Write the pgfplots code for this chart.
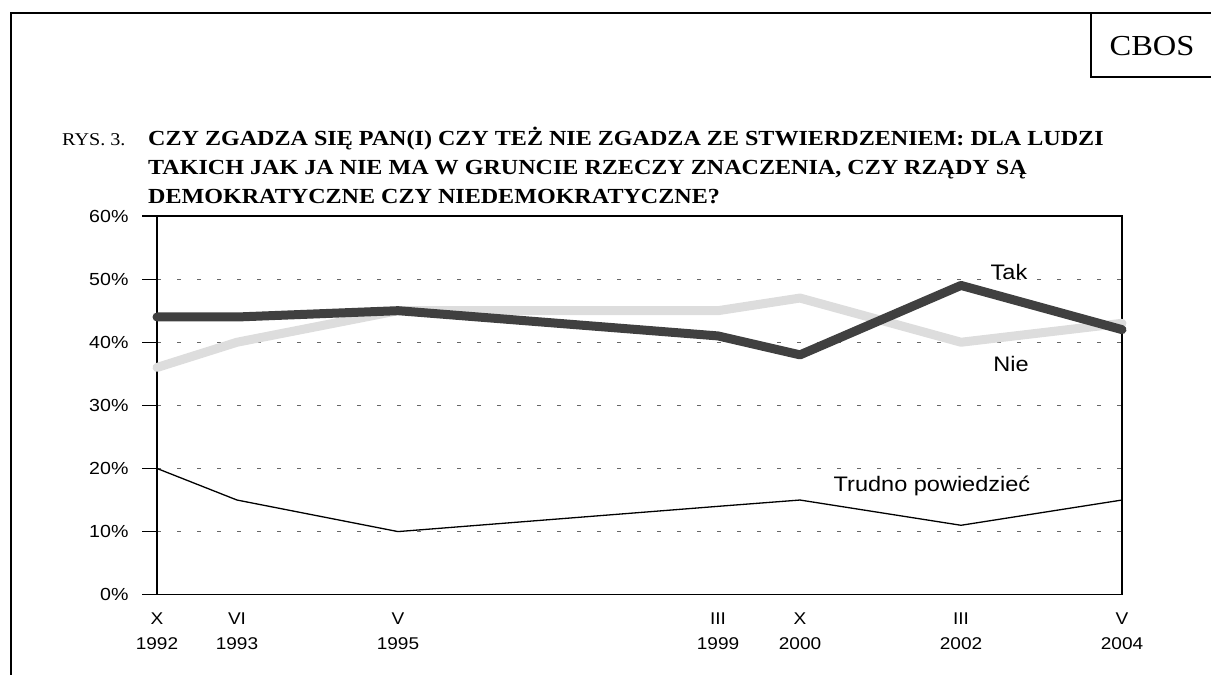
\documentclass[border=0pt]{standalone}
\usepackage{fontspec}
\setmainfont{Liberation Serif}[FakeStretch=1.12]
\newfontfamily\arial{Liberation Sans}[FakeStretch=1.12]
\usepackage{pgfplots}
\pgfplotsset{compat=1.18}
\definecolor{takc}{HTML}{404040}
\definecolor{niec}{HTML}{DDDDDD}
\begin{document}
\begin{tikzpicture}
\path[use as bounding box] (0,0) rectangle (1211pt,-675pt);
\draw[line width=2pt] (11pt,-676pt) -- (11pt,-13pt) -- (1212pt,-13pt);
\draw[line width=1.5pt] (1091pt,-13pt) -- (1091pt,-77pt) -- (1212pt,-77pt);
\node[anchor=base, inner sep=0pt, font=\fontsize{29}{32}\selectfont] at (1152pt,-55pt) {CBOS};
\node[anchor=base west, inner sep=0pt, font=\fontsize{18}{24}\selectfont] at (62pt,-145pt) {RYS. 3.};
\node[anchor=base west, inner sep=0pt, font=\fontsize{21.5}{24}\selectfont\bfseries] at (148pt,-145pt) {CZY ZGADZA SIĘ PAN(I) CZY TEŻ NIE ZGADZA ZE STWIERDZENIEM: DLA LUDZI};
\node[anchor=base west, inner sep=0pt, font=\fontsize{21.5}{24}\selectfont\bfseries] at (148pt,-174pt) {TAKICH JAK JA NIE MA W GRUNCIE RZECZY ZNACZENIA, CZY RZĄDY SĄ};
\node[anchor=base west, inner sep=0pt, font=\fontsize{21.5}{24}\selectfont\bfseries] at (148pt,-203pt) {DEMOKRATYCZNE CZY NIEDEMOKRATYCZNE?};
\begin{axis}[
  at={(157pt,-594.7pt)}, anchor=south west,
  scale only axis, width=965pt, height=378.7pt,
  xmin=0, xmax=965, ymin=0, ymax=60,
  axis line style={line width=1.2pt},
  ytick={0,10,...,60},
  ytick pos=left,
  tick align=outside,
  major tick length=15pt,
  y tick style={black, line width=1.2pt},
  xtick={0,80,241,561,643,804,965},
  xticklabels={X\\1992,VI\\1993,V\\1995,III\\1999,X\\2000,III\\2002,V\\2004},
  x tick style={draw=none},
  xticklabel style={align=center, font=\arial\fontsize{17}{25}\selectfont},
  yticklabel style={font=\arial\fontsize{17.5}{20}\selectfont, xshift=-10pt},
  /pgf/number format/assume math mode=true,
  yticklabel={\arial\fontsize{17.5}{20}\selectfont\pgfmathprintnumber{\tick}\%},
  ymajorgrids,
  grid style={dash pattern=on 4pt off 16pt, black!60, line width=0.9pt},
  clip=false,
]
\addplot[niec, line width=9pt, line cap=round, line join=round] coordinates {(0,36) (80,40) (241,45) (561,45) (643,47) (804,40) (965,43)};
\addplot[takc, line width=9pt, line cap=round, line join=round] coordinates {(0,44) (80,44) (241,45) (561,41) (643,38) (804,49) (965,42)};
\addplot[black, line width=1.3pt] coordinates {(0,20) (80,15) (241,10) (561,14) (643,15) (804,11) (965,15)};
\node[font=\arial\fontsize{21}{24}\selectfont] at (axis cs:852,51.2) {Tak};
\node[font=\arial\fontsize{21}{24}\selectfont] at (axis cs:854,36.6) {Nie};
\node[font=\arial\fontsize{21}{24}\selectfont] at (axis cs:775,17.3) {Trudno powiedzieć};
\end{axis}
\end{tikzpicture}
\end{document}
